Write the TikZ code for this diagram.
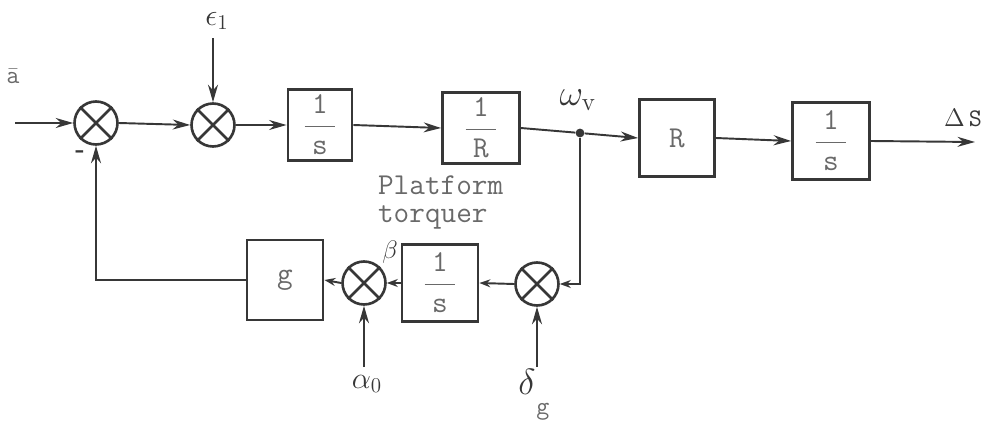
\documentclass[tikz,border=0pt]{standalone}
\usepackage{amsmath}
\usepackage{tikz}
\usetikzlibrary{arrows.meta, positioning, calc}
\definecolor{ink}{RGB}{55,55,55}
\definecolor{faint}{RGB}{105,105,105}
\tikzset{
    blk/.style={rectangle, draw=ink, line width=1.6pt, minimum width=1.5cm, minimum height=1.45cm, text=faint, font=\LARGE\ttfamily, align=center},
    sumnode/.style={circle, draw=ink, line width=1.5pt, minimum size=0.86cm, inner sep=0pt},
    arrow/.style={-{Stealth[length=3.5mm, width=2mm]}, line width=1.1pt, ink},
    smallarrow/.style={-{Stealth[length=2.2mm, width=1.6mm]}, line width=1.1pt, ink},
    wire/.style={line width=1.1pt, ink},
}
\newcommand{\blkfrac}[1]{$\dfrac{\hspace{1.5mm}\mathtt{1}\hspace{1.5mm}}{\mathtt{#1}}$}

\begin{document}
\begin{tikzpicture}[
    x=0.02cm, y=-0.02cm,
    >=Stealth,
    lbl/.style={text=ink, inner sep=1pt}
]
\useasboundingbox (0,0) rectangle (985,426);

% forward path
\node[sumnode] (s1) at (96,123) {};
\node[sumnode] (s2) at (213,125) {};
\node[blk, minimum width=1.28cm, minimum height=1.4cm] (int1) at (320,125) {\blkfrac{s}};
\node[blk, minimum width=1.54cm, minimum height=1.4cm] (rad) at (481,128) {\blkfrac{R}};
\node[blk, minimum height=1.54cm] (rbox) at (677,138) {R};
\node[blk, minimum width=1.54cm, minimum height=1.54cm] (int2) at (831,141) {\blkfrac{s}};
\node[circle, fill=ink, inner sep=0pt, minimum size=5pt] (tap) at (580,133) {};
\coordinate (in) at (15,123);
\coordinate (out) at (975,142);
\coordinate (eps) at (213,38);

% feedback path
\node[sumnode] (sd) at (537,284) {};
\node[blk, minimum width=1.52cm, minimum height=1.54cm] (int3) at (440,283) {\blkfrac{s}};
\node[sumnode] (sb) at (364,283) {};
\node[blk, minimum width=1.52cm, minimum height=1.6cm] (gain) at (285,280) {g};
\coordinate (alf) at (364,367);
\coordinate (del) at (537,367);

\foreach \s in {s1,s2,sb,sd}
    \draw[ink, line width=1.5pt] (\s.north east) -- (\s.south west) (\s.north west) -- (\s.south east);

\node[lbl, text=faint, font=\Large] (abar) at (13,76) {$\bar{\mathtt{a}}$};
\node[lbl, font=\Large\bfseries] (minus) at (80,154) {-};
\node[lbl, font=\LARGE] (epsl) at (217,21) {$\epsilon_1$};
\node[lbl, font=\huge] (omg) at (578,100) {$\omega_{\mathrm{v}}$};
\node[lbl, font=\Large] (ds) at (963,118) {$\Delta$\,\texttt{S}};
\node[lbl, text=faint, font=\ttfamily\LARGE, align=left, anchor=north west] (plat) at (376,174) {Platform\\[-6pt]torquer};
\node[lbl, font=\Large] (beta) at (390,252) {$\beta$};
\node[lbl, font=\LARGE] (alpha) at (367,384) {$\alpha_0$};
\node[lbl, font=\huge] (delta) at (527,382) {$\delta$};
\node[lbl, text=faint, font=\ttfamily\Large] (gl) at (543,412) {g};

\draw[arrow] (in) -- (s1.west);
\draw[arrow] (s1.east) -- (s2.west);
\draw[arrow] (eps) -- (s2.north);
\draw[arrow] (s2.east) -- (int1.west);
\draw[arrow] (int1.east) -- (rad.west);
\draw[wire] (rad.east) -- (tap);
\draw[arrow] (tap) -- (rbox.west);
\draw[arrow] (rbox.east) -- (int2.west);
\draw[arrow] (int2.east) -- (out);
\draw[smallarrow] (tap) |- (sd.east);
\draw[smallarrow] (sd.west) -- (int3.east);
\draw[smallarrow] (int3.west) -- (sb.east);
\draw[smallarrow] (sb.west) -- (gain.east);
\draw[arrow] (gain.west) -| (s1.south);
\draw[arrow] (alf) -- (sb.south);
\draw[arrow] (del) -- (sd.south);

\end{tikzpicture}
\end{document}
